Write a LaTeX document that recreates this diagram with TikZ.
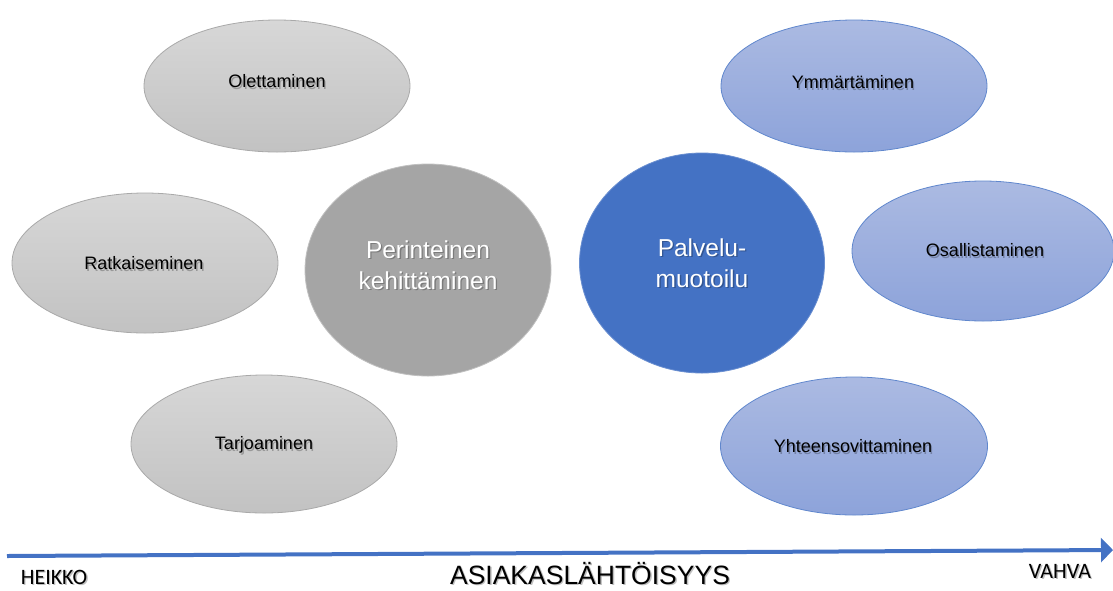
\documentclass[tikz,border=0pt]{standalone}
\usepackage{fontspec}
\setmainfont{Liberation Sans}
\newfontfamily\calfont{Carlito}
\usetikzlibrary{arrows.meta,shapes.geometric}

\definecolor{accentblue}{HTML}{4472C4}
\definecolor{greytop}{HTML}{D7D7D7}
\definecolor{greybot}{HTML}{C2C2C2}
\definecolor{greyedge}{HTML}{A9A9A9}
\definecolor{bluetop}{HTML}{ABBAE2}
\definecolor{bluebot}{HTML}{8DA3DA}
\definecolor{midgrey}{HTML}{A5A5A5}

\tikzset{
  greyoval/.style={ellipse, draw=greyedge, line width=0.8pt,
    top color=greytop, bottom color=greybot, shading=axis},
  blueoval/.style={ellipse, draw=accentblue!85!white, line width=0.8pt,
    top color=bluetop, bottom color=bluebot, shading=axis},
  bigdisc/.style={ellipse, line width=0.8pt},
  smalllabel/.style={font=\fontsize{18}{21}\selectfont, text=black},
  biglabel/.style={font=\fontsize{24.5}{31}\selectfont, text=white, align=center},
  axislabel/.style={inner sep=0pt},
  shadowtxt/.style={text=black, opacity=0.25},
  axisarrow/.style={draw=accentblue, line width=4pt,
    -{Triangle[length=12pt,width=24pt]}},
}

% label with a soft drop shadow
\newcommand{\shadowlabel}[4]{%
  \node[#2, shadowtxt] at ([shift={(1.4pt,-1.6pt)}]#3) {#4};
  \node[#2] (#1) at (#3) {#4};}

\begin{document}
\begin{tikzpicture}[x=1pt, y=-1pt]
\useasboundingbox (0,0) rectangle (1113,590);

% grey ovals (weak customer orientation)
\node[greyoval, minimum width=266pt, minimum height=132pt] (olet) at (277,86) {};
\node[greyoval, minimum width=266pt, minimum height=140pt] (ratk) at (145,263) {};
\node[greyoval, minimum width=266pt, minimum height=138pt] (tarj) at (264,444) {};

% blue ovals (strong customer orientation)
\node[blueoval, minimum width=266pt, minimum height=132pt] (ymma) at (854,86) {};
\node[blueoval, minimum width=262pt, minimum height=140pt] (osal) at (983,251) {};
\node[blueoval, minimum width=267pt, minimum height=138pt] (yhte) at (854,446) {};

% central discs
\node[bigdisc, fill=midgrey, draw=midgrey!70!white,
      minimum width=246pt, minimum height=212pt] (peri) at (428,270) {};
\node[bigdisc, fill=accentblue, draw=accentblue!80!white,
      minimum width=245pt, minimum height=220pt] (palv) at (702,263) {};

% oval labels
\shadowlabel{tOlet}{smalllabel}{277,81}{Olettaminen}
\shadowlabel{tRatk}{smalllabel}{144,263}{Ratkaiseminen}
\shadowlabel{tTarj}{smalllabel}{264,445}{Tarjoaminen}
\shadowlabel{tYmma}{smalllabel}{853,82}{Ymmärtäminen}
\shadowlabel{tOsal}{smalllabel}{985,250}{Osallistaminen}
\shadowlabel{tYhte}{smalllabel}{853,446}{Yhteensovittaminen}

% disc labels
\shadowlabel{tPeri}{biglabel}{428,265}{Perinteinen\\kehittäminen}
\shadowlabel{tPalv}{biglabel}{702,263}{Palvelu-\\muotoilu}

% axis
\coordinate (axstart) at (7,556);
\coordinate (axend) at (1113,550);
\draw[axisarrow] (axstart) -- (axend);

\shadowlabel{heikko}{axislabel, font=\calfont\fontsize{22}{26}\selectfont}{54,577}{HEIKKO}
\shadowlabel{vahva}{axislabel, font=\calfont\fontsize{22}{26}\selectfont}{1060,571}{VAHVA}
\shadowlabel{axtitle}{axislabel, anchor=base, font=\fontsize{26.5}{30}\selectfont}{590,584}{ASIAKASLÄHTÖISYYS}
\end{tikzpicture}
\end{document}
